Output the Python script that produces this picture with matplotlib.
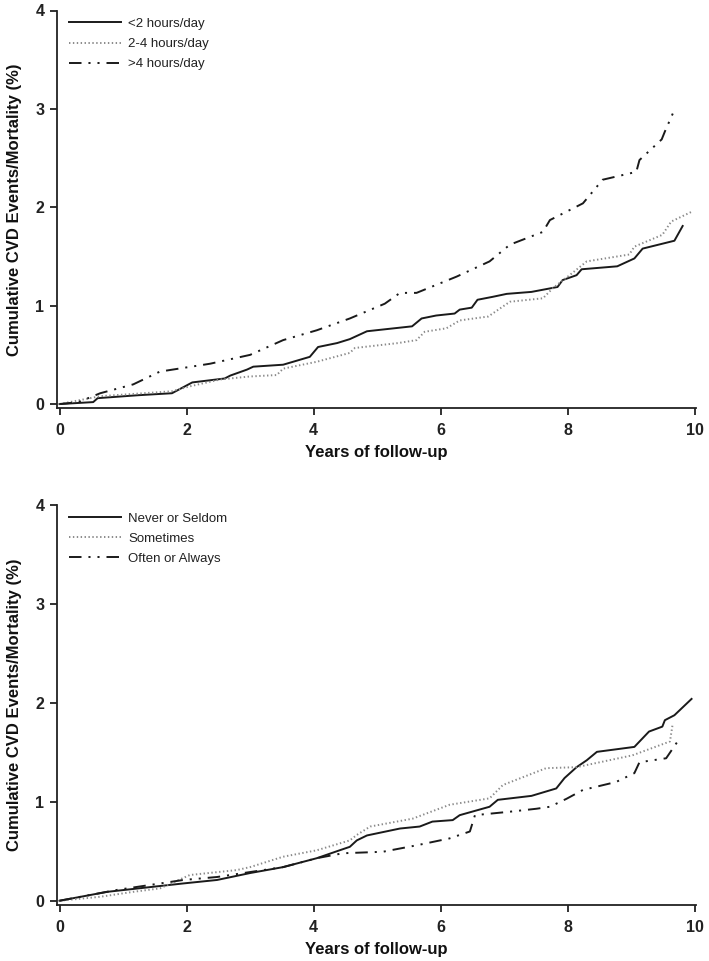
import matplotlib
matplotlib.use("Agg")
import matplotlib.pyplot as plt

plt.rcParams['lines.scale_dashes'] = False

# ---------------- data ----------------
# Top panel: TV viewing time
top_labels = ["<2 hours/day", "2-4 hours/day", ">4 hours/day"]

lt2_x = [0.0, 0.53, 0.6, 1.24, 1.77, 2.09, 2.6, 2.69, 2.95, 3.05, 3.52, 3.94, 4.07, 4.37,
         4.57, 4.84, 5.55, 5.70, 5.93, 6.22, 6.30, 6.49, 6.58, 6.82, 7.04, 7.43, 7.84,
         7.92, 8.14, 8.22, 8.78, 9.05, 9.18, 9.68, 9.81]
lt2_y = [0.0, 0.02, 0.06, 0.09, 0.11, 0.22, 0.26, 0.29, 0.35, 0.38, 0.40, 0.48, 0.58, 0.62,
         0.66, 0.74, 0.79, 0.87, 0.90, 0.92, 0.96, 0.98, 1.06, 1.09, 1.12, 1.14, 1.19,
         1.26, 1.31, 1.37, 1.40, 1.48, 1.58, 1.66, 1.81]

mid_x = [0.0, 0.64, 1.77, 2.05, 2.53, 2.99, 3.42, 3.52, 4.05, 4.57, 4.65, 5.33, 5.62,
         5.75, 6.09, 6.30, 6.75, 7.09, 7.61, 7.77, 8.03, 8.30, 8.97, 9.05, 9.49, 9.63, 9.97]
mid_y = [0.0, 0.08, 0.13, 0.18, 0.25, 0.28, 0.295, 0.36, 0.43, 0.52, 0.57, 0.62, 0.65,
         0.735, 0.77, 0.85, 0.89, 1.04, 1.075, 1.18, 1.31, 1.45, 1.52, 1.60, 1.72, 1.855, 1.96]

gt4_x = [0.0, 0.3, 0.64, 1.16, 1.58, 2.37, 3.0, 3.52, 4.05, 4.57, 5.12, 5.36, 5.62, 6.25,
         6.77, 7.09, 7.61, 7.72, 8.24, 8.55, 9.08, 9.13, 9.48, 9.53, 9.68]
gt4_y = [0.0, 0.02, 0.11, 0.20, 0.33, 0.41, 0.50, 0.65, 0.75, 0.87, 1.02, 1.13, 1.13, 1.295,
         1.45, 1.62, 1.75, 1.87, 2.04, 2.28, 2.36, 2.48, 2.69, 2.77, 2.99]

# Bottom panel: frequency
bot_labels = ["Never or Seldom", "Sometimes", "Often or Always"]

nev_x = [0.0, 0.75, 1.95, 2.48, 3.0, 3.52, 4.05, 4.41, 4.57, 4.68, 4.84, 5.36, 5.67, 5.87,
         6.19, 6.30, 6.77, 6.90, 7.43, 7.82, 7.95, 8.14, 8.30, 8.46, 9.05, 9.28, 9.49,
         9.53, 9.68, 9.95]
nev_y = [0.0, 0.09, 0.175, 0.21, 0.28, 0.34, 0.43, 0.51, 0.545, 0.61, 0.66, 0.73, 0.75, 0.80,
         0.815, 0.865, 0.95, 1.02, 1.06, 1.135, 1.24, 1.35, 1.42, 1.505, 1.555, 1.71, 1.76,
         1.825, 1.875, 2.04]

som_x = [0.0, 0.64, 1.16, 1.58, 2.05, 2.79, 3.0, 3.52, 4.05, 4.57, 4.68, 4.89, 5.56, 6.14,
         6.77, 6.98, 7.66, 8.14, 9.02, 9.61, 9.65]
som_y = [0.0, 0.04, 0.09, 0.125, 0.26, 0.31, 0.34, 0.445, 0.51, 0.61, 0.665, 0.75, 0.83,
         0.97, 1.035, 1.17, 1.34, 1.35, 1.47, 1.61, 1.775]

oft_x = [0.0, 0.91, 1.43, 1.95, 2.48, 3.0, 3.52, 4.05, 4.46, 5.09, 5.62, 6.14, 6.46, 6.54,
         7.09, 7.51, 7.72, 7.98, 8.24, 8.76, 9.05, 9.13, 9.55, 9.73]
oft_y = [0.0, 0.11, 0.16, 0.21, 0.24, 0.29, 0.34, 0.43, 0.48, 0.495, 0.56, 0.63, 0.70, 0.865,
         0.90, 0.93, 0.95, 1.03, 1.12, 1.20, 1.29, 1.40, 1.44, 1.61]

x_ticks = [0, 2, 4, 6, 8, 10]
y_ticks = [0, 1, 2, 3, 4]
x_label = "Years of follow-up"
y_label = "Cumulative CVD Events/Mortality (%)"

# ---------------- styling ----------------
NARROW = ['Liberation Sans Narrow', 'Liberation Sans', 'DejaVu Sans']
REG = ['Liberation Sans', 'DejaVu Sans']

solid_kw = dict(color='#1a1a1a', lw=1.4, linestyle='-')
dot_kw = dict(color='#8a8a8a', lw=1.4, linestyle=(0, (1.0, 1.8)))
dashdot_kw = dict(color='#1a1a1a', lw=1.4, linestyle=(0, (9, 5, 1.5, 5, 1.5, 5)))

W, H = 709, 961
fig = plt.figure(figsize=(W / 100, H / 100), dpi=100)

def px_axes(left, right, top, bottom):
    return fig.add_axes([left / W, 1 - bottom / H, (right - left) / W, (bottom - top) / H])

ax1 = px_axes(57, 696, 10.5, 408)
ax2 = px_axes(57, 696, 505, 904.7)

panels = [
    (ax1, [(lt2_x, lt2_y), (mid_x, mid_y), (gt4_x, gt4_y)], top_labels),
    (ax2, [(nev_x, nev_y), (som_x, som_y), (oft_x, oft_y)], bot_labels),
]

for ax, series, labels in panels:
    for (xs, ys), kw, lab in zip(series, [solid_kw, dot_kw, dashdot_kw], labels):
        ax.plot(xs, ys, label=lab, **kw)
    ax.set_xlim(-0.04, 10.02)
    ax.set_ylim(-0.04, 4.0)
    ax.set_xticks(x_ticks)
    ax.set_yticks(y_ticks)
    for s in ['top', 'right']:
        ax.spines[s].set_visible(False)
    for s in ['left', 'bottom']:
        ax.spines[s].set_linewidth(1.3)
        ax.spines[s].set_color('#222222')
    ax.tick_params(axis='both', direction='out', length=5, width=1.3, colors='#222222')
    ax.tick_params(axis='y', pad=4)
    ax.tick_params(axis='x', pad=6)
    for t in ax.get_xticklabels() + ax.get_yticklabels():
        t.set_fontfamily(NARROW)
        t.set_fontsize(11.5)
        t.set_fontweight('bold')
        t.set_color('#222222')
    ax.set_xlabel(x_label, fontfamily=NARROW, fontsize=12, fontweight='bold',
                  color='#111111', labelpad=5)
    ax.set_ylabel(y_label, fontfamily=NARROW, fontsize=12, fontweight='bold',
                  color='#111111', labelpad=10)
    leg = ax.legend(loc='upper left', bbox_to_anchor=(0.01, 0.995), frameon=False,
                    prop={'family': REG, 'size': 9.5}, handlelength=3.95,
                    handletextpad=0.55, labelspacing=0.6, borderaxespad=0.2,
                    borderpad=0.2)
    for t in leg.get_texts():
        t.set_color('#222222')

fig.savefig('out.png', dpi=100)
